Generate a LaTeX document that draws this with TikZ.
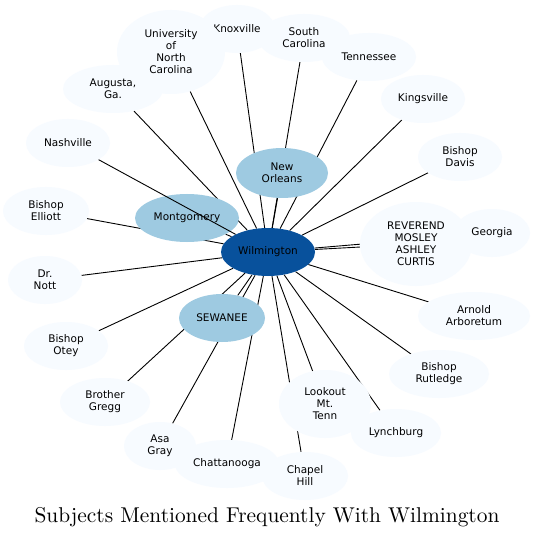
\documentclass[tikz,border=0pt]{standalone}
\usepackage{fontspec}
\newfontfamily\nodefont{DejaVu Sans}
\newfontfamily\titlef[Extension=.otf]{lmroman10-regular}
\usetikzlibrary{shapes.geometric,backgrounds}
\definecolor{lightb}{HTML}{F7FBFF}
\definecolor{midb}{HTML}{9ECAE1}
\definecolor{darkb}{HTML}{08519C}
\tikzset{
  sz/.style 2 args={minimum width=#1pt,minimum height=#2pt},
  ent/.style={ellipse,inner sep=0pt,align=center,font=\nodefont\fontsize{10.5}{12}\selectfont,text=black},
  leaf/.style={ent,fill=lightb},
  mid/.style={ent,fill=midb},
  hub/.style={ent,fill=darkb},
  link/.style={line width=0.9pt,black},
  titlefont/.style={font=\titlef\fontsize{21.4}{25}\selectfont}
}
\begin{document}
\begin{tikzpicture}[x=1pt,y=-1pt]
\useasboundingbox (0,0) rectangle (536,537);
\node[mid,sz={92}{50}] (nor) at (282,173) {New\\Orleans};
\node[mid,sz={104}{48}] (mon) at (187,218) {Montgomery};
\node[mid,sz={86}{48}] (sew) at (222,318) {SEWANEE};
\node[hub,sz={94}{48}] (wil) at (268,252) {Wilmington};
\node[leaf,sz={76}{48}] (kno) at (237,29) {Knoxville};
\node[leaf,sz={108}{84}] (unc) at (171,52) {University\\of\\North\\Carolina};
\node[leaf,sz={92}{48}] (sca) at (304,38) {South\\Carolina};
\node[leaf,sz={94}{48}] (ten) at (369,57) {Tennessee};
\node[leaf,sz={100}{48}] (aug) at (113,89) {Augusta,\\Ga.};
\node[leaf,sz={84}{48}] (kin) at (423,99) {Kingsville};
\node[leaf,sz={84}{48}] (bda) at (460,157) {Bishop\\Davis};
\node[leaf,sz={84}{48}] (nas) at (68,143) {Nashville};
\node[leaf,sz={86}{48}] (bel) at (46,211) {Bishop\\Elliott};
\node[leaf,sz={76}{48}] (geo) at (492,233) {Georgia};
\node[leaf,sz={112}{84}] (rev) at (416,244) {REVEREND\\MOSLEY\\ASHLEY\\CURTIS};
\node[leaf,sz={74}{48}] (dno) at (45,280) {Dr.\\Nott};
\node[leaf,sz={112}{48}] (arn) at (474,316) {Arnold\\Arboretum};
\node[leaf,sz={84}{48}] (bot) at (66,346) {Bishop\\Otey};
\node[leaf,sz={100}{48}] (bru) at (439,374) {Bishop\\Rutledge};
\node[leaf,sz={90}{48}] (bgr) at (105,402) {Brother\\Gregg};
\node[leaf,sz={92}{68}] (loo) at (325,404) {Lookout\\Mt.\\Tenn};
\node[leaf,sz={90}{48}] (lyn) at (396,433) {Lynchburg};
\node[leaf,sz={72}{48}] (asa) at (160,446) {Asa\\Gray};
\node[leaf,sz={104}{48}] (cha) at (227,464) {Chattanooga};
\node[leaf,sz={86}{48}] (chh) at (305,476) {Chapel\\Hill};
\begin{scope}[on background layer]
\fill[white] (0,0) rectangle (536,537);
\foreach \n in {nor,mon,sew,kno,unc,sca,ten,aug,kin,bda,bel,geo,rev,dno,arn,bot,bru,bgr,loo,lyn,asa,cha,chh}
  \draw[link] (wil) -- (\n);
\end{scope}
\draw[link] (wil) -- (nas);
\node[titlefont,anchor=base] (title) at (267,522) {Subjects Mentioned Frequently With Wilmington};
\end{tikzpicture}
\end{document}
